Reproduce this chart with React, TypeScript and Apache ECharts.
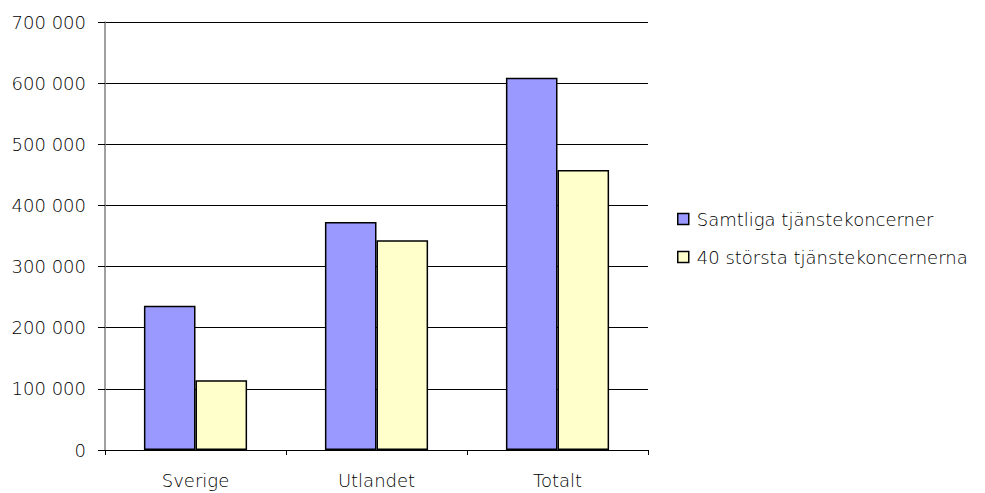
import React, { useEffect, useRef } from "react";
import * as echarts from "echarts";

const categories = ["Sverige", "Utlandet", "Totalt"];
const seriesNames = ["Samtliga tjänstekoncerner", "40 största tjänstekoncernerna"];
const samtliga = [236000, 373000, 609000];
const storsta40 = [114000, 343000, 458000];
const seriesColors = ["#9999FF", "#FFFFCC"];

const fmt = (v: number) => {
  if (v === 0) return "0";
  const s = String(v);
  return s.replace(/\B(?=(\d{3})+(?!\d))/g, " ");
};

export default function App() {
  const ref = useRef<HTMLDivElement>(null);
  useEffect(() => {
    if (!ref.current) return;
    const chart = echarts.init(ref.current, undefined, { renderer: "svg" });
    const font = "DejaVu Sans";
    const weight = 200;
    chart.setOption({
      animation: false,
      backgroundColor: "#ffffff",
      textStyle: { fontFamily: font },
      grid: { left: 105, right: 337, top: 22, bottom: 43, containLabel: false },
      legend: {
        orient: "vertical",
        left: 672,
        top: 205,
        itemWidth: 11,
        itemHeight: 11,
        itemGap: 20,
        icon: "rect",
        textStyle: { fontFamily: font, fontWeight: weight, fontSize: 18, color: "#000", padding: [0, 0, 0, 3] },
        itemStyle: { borderColor: "#000", borderWidth: 1.5 },
        data: seriesNames,
      },
      xAxis: {
        type: "category",
        data: categories,
        axisLine: { lineStyle: { color: "#000", width: 1 } },
        axisTick: { show: true, length: 5, lineStyle: { color: "#000" } },
        axisLabel: { fontFamily: font, fontWeight: weight, fontSize: 18, color: "#000", margin: 21 },
      },
      yAxis: {
        type: "value",
        min: 0,
        max: 700000,
        interval: 100000,
        axisLine: { show: true, lineStyle: { color: "#808080", width: 1.5 } },
        axisTick: { show: true, length: 7, lineStyle: { color: "#000" } },
        axisLabel: { fontFamily: font, fontWeight: weight, fontSize: 18, color: "#000", margin: 19, formatter: fmt },
        splitLine: { show: true, lineStyle: { color: "#000", width: 1 } },
      },
      series: [
        {
          name: seriesNames[0],
          type: "bar",
          data: samtliga,
          barGap: "0%",
          barCategoryGap: "43%",
          itemStyle: { color: seriesColors[0], borderColor: "#000", borderWidth: 1.5 },
        },
        {
          name: seriesNames[1],
          type: "bar",
          data: storsta40,
          barGap: "0%",
          barCategoryGap: "43%",
          itemStyle: { color: seriesColors[1], borderColor: "#000", borderWidth: 1.5 },
        },
      ],
    });
    return () => chart.dispose();
  }, []);
  return <div ref={ref} style={{ width: 985, height: 493, position: "absolute", left: 0, top: 0 }} />;
}
